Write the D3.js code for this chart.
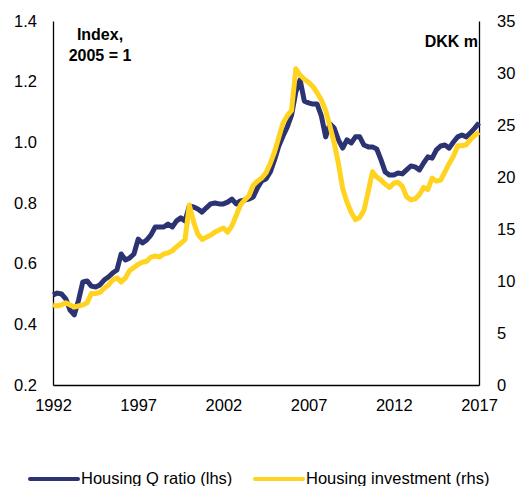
<!DOCTYPE html>
<html>
<head>
<meta charset="utf-8">
<script src="https://cdn.jsdelivr.net/npm/d3@7"></script>
<style>
  body { margin: 0; background: #fff; }
  svg { display: block; font-family: "Liberation Sans", Arial, sans-serif; }
</style>
</head>
<body>
<svg width="517" height="486"></svg>
<script>
const svgWidth = 517;
const svgHeight = 486;

const margin = { top: 21, left: 53, bottom: 101, right: 38 };
const width = svgWidth - (margin.left + margin.right);
const height = svgHeight - (margin.top + margin.bottom);

// quarterly data, 1992Q1 ... 2017Q1
const startYear = 1992;
const qRatio = [
  0.497, 0.503, 0.500, 0.484, 0.447, 0.431, 0.480, 0.540, 0.543, 0.526,
  0.523, 0.530, 0.546, 0.556, 0.569, 0.579, 0.632, 0.612, 0.619, 0.632,
  0.681, 0.668, 0.678, 0.695, 0.721, 0.721, 0.721, 0.731, 0.721, 0.741,
  0.751, 0.741, 0.790, 0.787, 0.780, 0.770, 0.784, 0.797, 0.800, 0.797,
  0.797, 0.803, 0.813, 0.797, 0.807, 0.810, 0.813, 0.820, 0.850, 0.873,
  0.879, 0.902, 0.942, 0.988, 1.021, 1.051, 1.090, 1.166, 1.206, 1.136,
  1.130, 1.126, 1.126, 1.087, 1.018, 1.061, 1.047, 1.008, 0.981, 1.008,
  0.998, 1.018, 1.018, 0.991, 0.985, 0.985, 0.978, 0.942, 0.902, 0.892,
  0.892, 0.899, 0.896, 0.909, 0.922, 0.919, 0.909, 0.932, 0.952, 0.948,
  0.975, 0.988, 0.991, 0.981, 1.001, 1.018, 1.024, 1.018, 1.031, 1.047,
  1.064
];
const investment = [
  7.7, 7.6, 7.7, 7.9, 7.7, 7.5, 7.6, 7.7, 7.9, 8.8,
  8.8, 8.9, 9.3, 9.6, 10.1, 10.3, 9.9, 10.3, 11.0, 11.3,
  11.6, 11.8, 11.9, 12.3, 12.4, 12.3, 12.6, 12.7, 12.9, 13.3,
  13.6, 14.0, 17.3, 15.7, 14.5, 14.0, 14.2, 14.4, 14.7, 14.9,
  15.1, 14.7, 15.3, 16.3, 17.3, 17.8, 18.2, 19.2, 19.6, 19.9,
  20.4, 21.3, 22.4, 23.8, 25.2, 25.9, 26.4, 30.4, 29.8, 29.4,
  29.1, 28.7, 28.1, 27.4, 26.4, 24.9, 23.3, 21.3, 18.9, 17.6,
  16.6, 15.9, 16.1, 16.8, 18.6, 20.5, 20.0, 19.7, 19.3, 19.0,
  19.4, 19.5, 19.1, 18.1, 17.8, 17.9, 18.3, 19.0, 18.8, 19.9,
  19.6, 19.7, 20.5, 21.3, 22.0, 23.0, 23.0, 23.1, 23.6, 24.0,
  24.3
];

const xTicks = [1992, 1997, 2002, 2007, 2012, 2017];
const leftTicks = [0.2, 0.4, 0.6, 0.8, 1.0, 1.2, 1.4];
const rightTicks = [0, 5, 10, 15, 20, 25, 30, 35];
const seriesNames = ["Housing Q ratio (lhs)", "Housing investment (rhs)"];
const colors = ["#2c3373", "#ffd31f"];

const xScale = d3.scaleLinear().domain([1992, 2017]).range([0, width]);
const yLeft = d3.scaleLinear().domain([0.2, 1.4]).range([height, 0]);
const yRight = d3.scaleLinear().domain([0, 35]).range([height, 0]);

const svg = d3.select("svg");
const g = svg.append("g")
  .attr("transform", `translate(${margin.left},${margin.top})`);

const fontSize = "16.5px";

// axes
const xAxis = g.append("g")
  .attr("class", "xAxis")
  .attr("transform", `translate(0,${height})`)
  .call(d3.axisBottom(xScale).tickValues(xTicks).tickFormat(d => d).tickSize(0).tickPadding(14));

const lAxis = g.append("g")
  .attr("class", "yAxis")
  .call(d3.axisLeft(yLeft).tickValues(leftTicks).tickFormat(d3.format(".1f")).tickSize(0).tickPadding(16));

const rAxis = g.append("g")
  .attr("class", "yAxis2")
  .attr("transform", `translate(${width},0)`)
  .call(d3.axisRight(yRight).tickValues(rightTicks).tickSize(0).tickPadding(18));

[xAxis, lAxis, rAxis].forEach(a => {
  a.selectAll("text").style("font-size", fontSize).attr("fill", "#000");
  a.select(".domain").attr("stroke", "#000").attr("stroke-width", 1.3);
});

// unit labels
g.append("text")
  .attr("x", 47).attr("y", 19)
  .attr("text-anchor", "middle")
  .style("font-size", "16px").style("font-weight", "bold")
  .text("Index,");
g.append("text")
  .attr("x", 47).attr("y", 40)
  .attr("text-anchor", "middle")
  .style("font-size", "16px").style("font-weight", "bold")
  .text("2005 = 1");
g.append("text")
  .attr("x", width - 1).attr("y", 26)
  .attr("text-anchor", "end")
  .style("font-size", "16px").style("font-weight", "bold")
  .text("DKK m");

// lines
const dateOf = i => startYear + i / 4;

const qLine = d3.line()
  .x((d, i) => xScale(dateOf(i)))
  .y(d => yLeft(d));
const invLine = d3.line()
  .x((d, i) => xScale(dateOf(i)))
  .y(d => yRight(d));

g.append("path")
  .datum(qRatio)
  .attr("d", qLine)
  .attr("fill", "none")
  .attr("stroke", colors[0])
  .attr("stroke-width", 5)
  .attr("stroke-linejoin", "round");

g.append("path")
  .datum(investment)
  .attr("d", invLine)
  .attr("fill", "none")
  .attr("stroke", colors[1])
  .attr("stroke-width", 5)
  .attr("stroke-linejoin", "round");

// legend
const legend = svg.append("g").attr("class", "legend");
const legendX = [30, 255];
seriesNames.forEach((name, i) => {
  const lg = legend.append("g").attr("transform", `translate(${legendX[i]},479)`);
  lg.append("line")
    .attr("x1", 0).attr("x2", 48)
    .attr("y1", 0).attr("y2", 0)
    .attr("stroke", colors[i])
    .attr("stroke-width", 4)
    .attr("stroke-linecap", "round");
  lg.append("text")
    .attr("x", 51).attr("y", 5)
    .style("font-size", fontSize)
    .text(name);
});
</script>
</body>
</html>
